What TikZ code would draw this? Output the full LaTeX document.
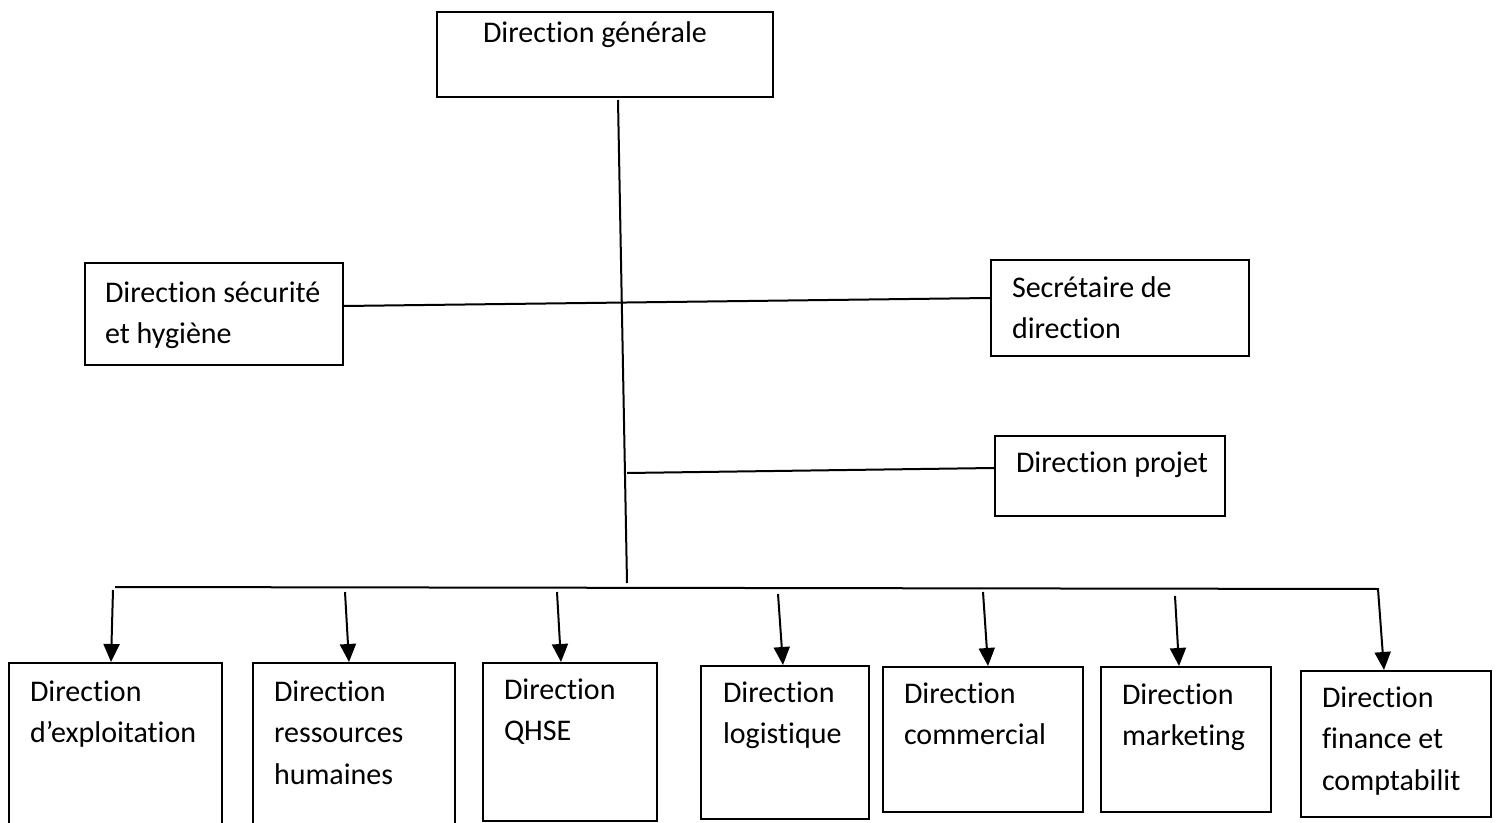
\documentclass[tikz,border=0pt]{standalone}
\usepackage{fontspec}
\setmainfont[Ligatures=NoCommon]{Carlito}
\usetikzlibrary{arrows.meta}
\usetikzlibrary{positioning}
\tikzset{>={Triangle[length=9pt,width=8pt]}}
\tikzset{box/.style={draw, line width=1pt, inner sep=0pt},
  txt/.style={align=left, inner sep=0pt, font=\fontsize{15pt}{20.75pt}\selectfont}}

\begin{document}
\begin{tikzpicture}[x=0.5pt, y=-0.5pt, line width=1pt]
  \useasboundingbox (0,0) rectangle (1498,823);
  \clip (0,0) rectangle (1498,823);

  \node[box, minimum width=168pt, minimum height=42.5pt] (dg) at (605,54.5) {};
  \node[txt, below right = 16pt and 23pt of dg.north west, anchor=base west] {Direction générale};

  \node[box, minimum width=129pt, minimum height=51pt] (dsh) at (214,314) {};
  \node[txt, below right = 40.75pt and 10pt of dsh.north west, anchor=base west] {Direction sécurité\\et hygiène};

  \node[box, minimum width=129pt, minimum height=48pt] (sdd) at (1120,308) {};
  \node[txt, below right = 39.75pt and 10.5pt of sdd.north west, anchor=base west] {Secrétaire de\\direction};

  \node[box, minimum width=115pt, minimum height=40pt] (dp) at (1110,476) {};
  \node[txt, below right = 18.5pt and 10.5pt of dp.north west, anchor=base west] {Direction projet};

  \node[box, minimum width=106.5pt, minimum height=83.5pt] (dexp) at (115.5,746.5) {};
  \node[txt, below right = 40.25pt and 10.5pt of dexp.north west, anchor=base west] {Direction\\d’exploitation};

  \node[box, minimum width=101pt, minimum height=83.5pt] (drh) at (354,746.5) {};
  \node[txt, below right = 61pt and 10.5pt of drh.north west, anchor=base west] {Direction\\ressources\\humaines};

  \node[box, minimum width=87pt, minimum height=79pt] (dqhse) at (570,742) {};
  \node[txt, below right = 39.25pt and 10.5pt of dqhse.north west, anchor=base west] {Direction\\QHSE};

  \node[box, minimum width=84pt, minimum height=76.5pt] (dlog) at (785,742.5) {};
  \node[txt, below right = 39.25pt and 11pt of dlog.north west, anchor=base west] {Direction\\logistique};

  \node[box, minimum width=100pt, minimum height=72.5pt] (dcom) at (983,739.5) {};
  \node[txt, below right = 39.25pt and 10.5pt of dcom.north west, anchor=base west] {Direction\\commercial};

  \node[box, minimum width=85pt, minimum height=72.5pt] (dmkt) at (1186,739.5) {};
  \node[txt, below right = 39.75pt and 10.5pt of dmkt.north west, anchor=base west] {Direction\\marketing};

  \node[box, minimum width=95pt, minimum height=73pt] (dfin) at (1396,744) {};
  \node[txt, below right = 60pt and 10.5pt of dfin.north west, anchor=base west] {Direction\\finance et\\comptabilit};

  \coordinate (top) at (618,100);
  \coordinate (trunk) at (627,583);
  \coordinate (pj) at (627,473);
  \draw (top) -- (trunk);
  \draw ([yshift=4pt]dsh.east) -- ([yshift=5pt]sdd.west);
  \draw (pj) -- ([yshift=4pt]dp.west);

  \coordinate (busl) at (115,587);
  \coordinate (busr) at (1378,589);
  \draw[->] (busl) -- (busr) -- ([xshift=-6pt]dfin.north);

  \coordinate (a1) at (113,590);
  \coordinate (a2) at (345,592);
  \coordinate (a3) at (557,592);
  \coordinate (a4) at (778,594);
  \coordinate (a5) at (983,592);
  \coordinate (a6) at (1175,596);
  \draw[->] (a1) -- ([xshift=-2.25pt]dexp.north);
  \draw[->] (a2) -- ([xshift=-2.5pt]drh.north);
  \draw[->] (a3) -- ([xshift=-4.5pt]dqhse.north);
  \draw[->] (a4) -- ([xshift=-1pt]dlog.north);
  \draw[->] (a5) -- ([xshift=2.5pt]dcom.north);
  \draw[->] (a6) -- ([xshift=-3.5pt]dmkt.north);

\end{tikzpicture}
\end{document}
